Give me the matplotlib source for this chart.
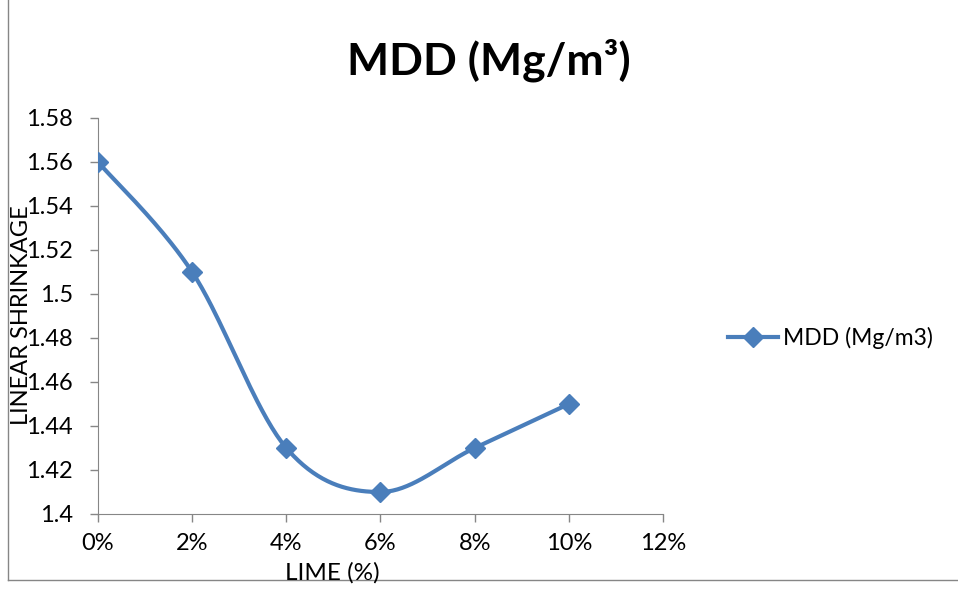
import numpy as np
import matplotlib.pyplot as plt
from matplotlib.lines import Line2D

lime = [0, 2, 4, 6, 8, 10]
mdd = [1.56, 1.51, 1.43, 1.41, 1.43, 1.45]
xticks = [0, 2, 4, 6, 8, 10, 12]
xlabels = ['0%', '2%', '4%', '6%', '8%', '10%', '12%']
yticks = [1.4, 1.42, 1.44, 1.46, 1.48, 1.5, 1.52, 1.54, 1.56, 1.58]
ylabels = ['1.4', '1.42', '1.44', '1.46', '1.48', '1.5', '1.52', '1.54', '1.56', '1.58']

plt.rcParams['font.family'] = ['Lato', 'DejaVu Sans']
blue = '#4A7EBB'
gray = '#868686'


# excel style smoothed line (catmull-rom bezier through the points)
def smooth(x, y, n=40):
    p = np.column_stack([x, y]).astype(float)
    pts = np.vstack([p[0], p, p[-1]])
    out = []
    for i in range(1, len(pts) - 2):
        p0, p1, p2, p3 = pts[i - 1], pts[i], pts[i + 1], pts[i + 2]
        c1 = p1 + (p2 - p0) / 6
        c2 = p2 - (p3 - p1) / 6
        t = np.linspace(0, 1, n)[:, None]
        b = (1 - t) ** 3 * p1 + 3 * (1 - t) ** 2 * t * c1 + 3 * (1 - t) * t ** 2 * c2 + t ** 3 * p2
        out.append(b)
    b = np.vstack(out)
    return b[:, 0], b[:, 1]


fig = plt.figure(figsize=(9.58, 5.91), dpi=100)
ax = fig.add_axes([98 / 958, 1 - 514 / 591, 565 / 958, 396 / 591])

sx, sy = smooth(lime, mdd)
ax.plot(sx, sy, color=blue, lw=3, zorder=2)
ax.plot(lime, mdd, ls='none', marker='D', ms=10, color=blue, zorder=3)

ax.set_xlim(0, 12)
ax.set_ylim(1.4, 1.58)
ax.set_xticks(xticks)
ax.set_xticklabels(xlabels, fontsize=17)
ax.set_yticks(yticks)
ax.set_yticklabels(ylabels, fontsize=17)
ax.tick_params(direction='out', length=6, color=gray, width=1)
ax.tick_params(axis='y', pad=12)
ax.tick_params(axis='x', pad=8)
for s in ['top', 'right']:
    ax.spines[s].set_visible(False)
for s in ['left', 'bottom']:
    ax.spines[s].set_color(gray)
ax.spines['left'].set_zorder(1)

# the axis title sits on top of the tick labels, as in the original
fig.text(22 / 958, 1 - 315 / 591, 'LINEAR SHRINKAGE', rotation=90, fontsize=17,
         ha='center', va='center')
fig.text(332 / 958, 1 - 573 / 591, 'LIME (%)', fontsize=17.5, ha='center', va='center')
fig.text(489 / 958, 1 - 60 / 591, 'MDD (Mg/m³)', fontsize=32, fontweight='bold',
         ha='center', va='center')

h = Line2D([], [], color=blue, lw=3, marker='D', ms=10)
fig.legend([h], ['MDD (Mg/m3)'], loc='center left', bbox_to_anchor=(728 / 958, 1 - 338 / 591),
           frameon=False, fontsize=16.5, handlelength=2.2, handletextpad=0.2,
           borderpad=0, borderaxespad=0)

# chart area border
fig.add_artist(Line2D([8 / 958, 8 / 958], [1.0, 1 - 580 / 591], color=gray, lw=1))
fig.add_artist(Line2D([8 / 958, 1.0], [1 - 580 / 591, 1 - 580 / 591], color=gray, lw=1))

fig.savefig('out.png', dpi=100)
